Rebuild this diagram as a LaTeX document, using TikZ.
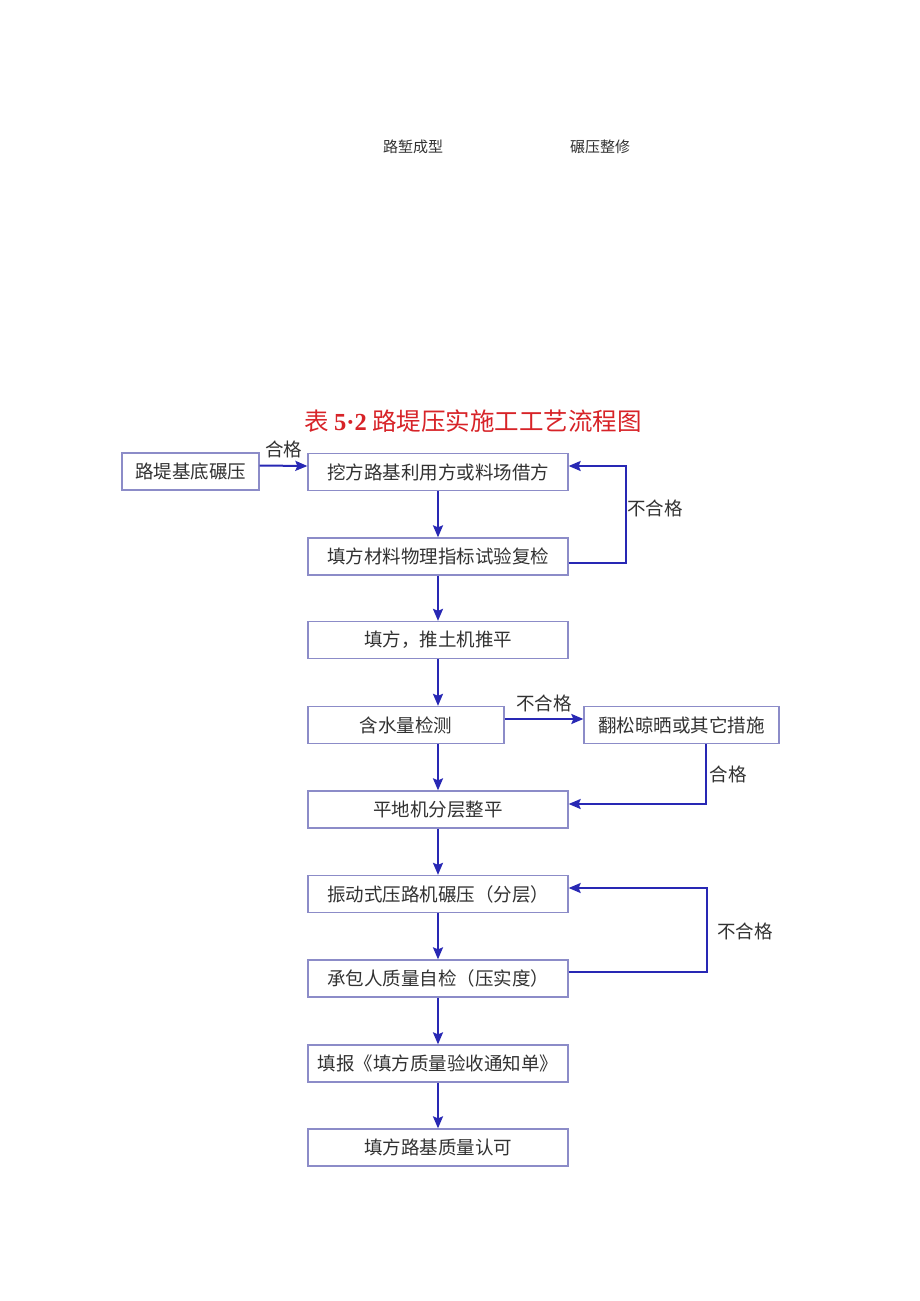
\documentclass[tikz,border=0pt]{standalone}
\usepackage{fontspec}
\usepackage{tikz}
\usetikzlibrary{arrows.meta}
\newfontfamily\cjk{Noto Sans CJK SC}
\newfontfamily\numfont{Liberation Serif}
\definecolor{boxline}{RGB}{140,140,200}
\definecolor{flowblue}{RGB}{40,40,180}
\definecolor{txtgray}{RGB}{50,50,50}
\definecolor{titlered}{RGB}{215,35,40}

\begin{document}
\begin{tikzpicture}[x=1pt, y=-1pt,
  box/.style={draw=boxline, line width=1.3pt, fill=white, text=txtgray,
    font=\cjk\fontsize{18.5}{21}\selectfont, minimum height=37pt, inner sep=0pt},
  flow/.style={draw=flowblue, line width=2pt, -{Stealth[length=12pt,width=10pt,inset=2pt]}},
  lbl/.style={text=txtgray, font=\cjk\fontsize{18.5}{21}\selectfont}]
\useasboundingbox (0,0) rectangle (920,1301);
% small captions at top
\node[text=txtgray, font=\cjk\fontsize{15}{17}\selectfont] (cut) at (413,147) {路堑成型};
\node[text=txtgray, font=\cjk\fontsize{15}{17}\selectfont] (roll) at (600,147) {碾压整修};
% title
\node[text=titlered, font=\cjk\fontsize{24.5}{28}\selectfont] (title) at (473,421)
  {表 {\numfont\bfseries 5·2} 路堤压实施工工艺流程图};
% boxes
\node[box, minimum width=137pt] (base) at (190.5,471.5) {路堤基底碾压};
\node[box, minimum width=260pt] (fill) at (438,472) {挖方路基利用方或料场借方};
\node[box, minimum width=260pt] (test) at (438,556.5) {填方材料物理指标试验复检};
\node[box, minimum width=260pt] (dozer) at (438,640) {填方，推土机推平};
\node[box, minimum width=196pt] (water) at (406,725) {含水量检测};
\node[box, minimum width=195pt] (dry) at (681.5,725) {翻松晾晒或其它措施};
\node[box, minimum width=260pt] (grade) at (438,809.5) {平地机分层整平};
\node[box, minimum width=260pt] (vib) at (438,894) {振动式压路机碾压（分层）};
\node[box, minimum width=260pt] (check) at (438,978.5) {承包人质量自检（压实度）};
\node[box, minimum width=260pt] (form) at (438,1063.5) {填报《填方质量验收通知单》};
\node[box, minimum width=260pt] (ok) at (438,1147.5) {填方路基质量认可};
% main flow
\draw[flow] ([yshift=6pt]base.east) -- node[lbl, above=3pt] {合格} ([yshift=6pt]fill.west);
\draw[flow] (fill) -- (test);
\draw[flow] (test) -- (dozer);
\draw[flow] (dozer) -- (water.north -| dozer.south);
\draw[flow] (water.south -| grade.north) -- (grade);
\draw[flow] (grade) -- (vib);
\draw[flow] (vib) -- (check);
\draw[flow] (check) -- (form);
\draw[flow] (form) -- (ok);
% loops
\draw[flow] ([yshift=-6.5pt]test.east) -- ++(57,0) |- ([yshift=6pt]fill.east);
\node[lbl] (fail1) at (655,508) {不合格};
\draw[flow] ([yshift=6pt]water.east) -- node[lbl, above=3pt] {不合格} ([yshift=6pt]dry.west);
\draw[flow] ([xshift=24.5pt]dry.south) |- ([yshift=5.5pt]grade.east);
\node[lbl] (pass2) at (728,774) {合格};
\draw[flow] ([yshift=6.5pt]check.east) -- ++(138,0) |- ([yshift=6pt]vib.east);
\node[lbl] (fail3) at (745,931) {不合格};
\end{tikzpicture}
\end{document}
